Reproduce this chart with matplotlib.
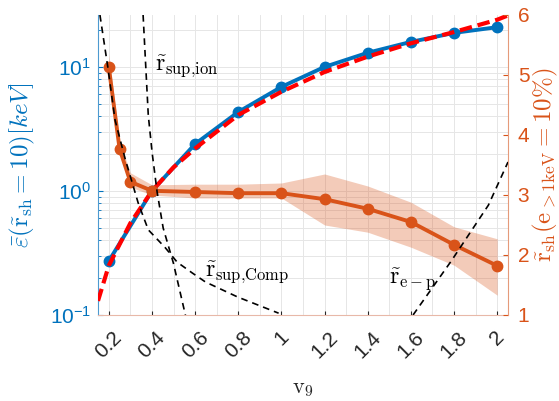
import numpy as np
import matplotlib.pyplot as plt
from matplotlib.ticker import MultipleLocator, LogLocator, NullFormatter

plt.rcParams['font.family'] = ['Liberation Sans', 'DejaVu Sans']
plt.rcParams['mathtext.fontset'] = 'cm'

# mean energy (left, log axis)
v_eps = [0.2, 0.4, 0.6, 0.8, 1.0, 1.2, 1.4, 1.6, 1.8, 2.0]
eps = [0.272, 1.0, 2.39, 4.33, 6.9, 10.0, 13.0, 15.9, 18.8, 20.9]

# fit to the energy (red dashed)
v_fit = [0.15, 0.2, 0.3, 0.4, 0.5, 0.6, 0.8, 1.0, 1.2, 1.4, 1.6, 1.8, 2.0, 2.05]
eps_fit = [0.13, 0.25, 0.55, 1.0, 1.55, 2.2, 4.1, 6.3, 9.1, 12.1, 15.5, 19.1, 24.0, 26.0]

# shock radius (right axis) with band
v_r = [0.2, 0.25, 0.3, 0.4, 0.6, 0.8, 1.0, 1.2, 1.4, 1.6, 1.8, 2.0]
r_sh = [5.13, 3.77, 3.22, 3.07, 3.05, 3.03, 3.03, 2.93, 2.77, 2.55, 2.17, 1.82]
r_hi = [5.35, 3.9, 3.37, 3.17, 3.18, 3.18, 3.2, 3.35, 3.15, 2.88, 2.47, 2.27]
r_lo = [5.0, 3.7, 3.13, 3.0, 2.95, 2.95, 2.95, 2.5, 2.38, 2.13, 1.83, 1.33]

# limiting radii (black dashed, right axis)
v_comp = [0.159, 0.196, 0.229, 0.276, 0.336, 0.383, 0.462, 0.517, 0.587, 0.648, 0.797, 0.987]
r_comp = [6.0, 5.12, 4.25, 3.6, 2.87, 2.42, 2.12, 1.88, 1.70, 1.55, 1.30, 1.03]
v_ion = [0.359, 0.383, 0.401, 0.424, 0.452, 0.499, 0.555]
r_ion = [6.0, 4.33, 3.7, 3.05, 2.45, 1.87, 1.0]
v_ep = [1.61, 1.787, 1.959, 2.05]
r_ep = [1.0, 1.9, 2.83, 3.55]

xtick_vals = [0.2, 0.4, 0.6, 0.8, 1.0, 1.2, 1.4, 1.6, 1.8, 2.0]
xtick_labels = ['0.2', '0.4', '0.6', '0.8', '1', '1.2', '1.4', '1.6', '1.8', '2']

blue = '#0072BD'
orange = '#D95319'

fig = plt.figure(figsize=(5.59, 4.01), dpi=100)
ax1 = fig.add_axes([0.1753, 0.2145, 0.7335, 0.7481])
ax2 = ax1.twinx()

# left axis
ax1.set_yscale('log')
ax1.set_xlim(0.15, 2.05)
ax1.set_ylim(0.1, 26.2)
ax1.plot(v_eps, eps, '-o', color=blue, lw=2.8, ms=7.5, zorder=3)
ax1.plot(v_fit, eps_fit, '--', color='#FF0000', lw=3, dashes=(3, 1.4), zorder=4)

ax1.set_xticks(xtick_vals)
ax1.set_xticklabels(xtick_labels, rotation=45, ha='center')
ax1.xaxis.set_minor_locator(MultipleLocator(0.1))
ax1.yaxis.set_major_locator(LogLocator(base=10, numticks=10))
ax1.yaxis.set_minor_locator(LogLocator(base=10, subs=np.arange(2, 10), numticks=20))
ax1.yaxis.set_minor_formatter(NullFormatter())
ax1.grid(True, which='both', color='#e6e6e6', lw=0.7)
ax1.set_axisbelow(True)

ax1.tick_params(axis='x', which='both', direction='in', labelsize=15, pad=9,
                colors='#262626', length=3)
ax1.tick_params(axis='x', which='minor', length=0)
ax1.tick_params(axis='y', which='both', direction='in', labelsize=15,
                colors=blue, pad=5)
ax1.tick_params(axis='y', which='minor', length=2.5)

ax1.set_ylabel(r'$\bar{\varepsilon}(\tilde{\mathrm{r}}_{\mathrm{sh}}=10)[keV]$',
               color=blue, fontsize=18)
ax1.yaxis.set_label_coords(-0.148, 0.5)
ax1.set_xlabel(r'$\mathrm{v}_9$', fontsize=16, color='#262626')
ax1.xaxis.set_label_coords(0.5, -0.21)

# right axis
ax2.set_ylim(1, 6)
ax2.fill_between(v_r, r_lo, r_hi, color=orange, alpha=0.3, lw=0, zorder=1)
ax2.plot(v_r, r_sh, '-o', color=orange, lw=2.8, ms=7.5, zorder=2)
ax2.plot(v_comp, r_comp, '--', color='k', lw=1.2, dashes=(4, 3), zorder=5)
ax2.plot(v_ion, r_ion, '--', color='k', lw=1.2, dashes=(4, 3), zorder=5)
ax2.plot(v_ep, r_ep, '--', color='k', lw=1.2, dashes=(4, 3), zorder=5)
ax2.set_yticks([1, 2, 3, 4, 5, 6])
ax2.tick_params(axis='y', direction='in', labelsize=15, colors=orange, pad=7)
ax2.set_ylabel(r'$\tilde{\mathrm{r}}_{\mathrm{sh}}(\mathrm{e}_{>1\mathrm{keV}}=10\%)$',
               color=orange, fontsize=18)
ax2.yaxis.set_label_coords(1.055, 0.5)

ax2.text(0.415, 5.13, r'$\tilde{\mathrm{r}}_{\mathrm{sup{,}ion}}$', fontsize=17,
         va='center', ha='left')
ax2.text(0.648, 1.7, r'$\tilde{\mathrm{r}}_{\mathrm{sup{,}Comp}}$', fontsize=17,
         va='center', ha='left')
ax2.text(1.5, 1.58, r'$\tilde{\mathrm{r}}_{\mathrm{e-p}}$', fontsize=17,
         va='center', ha='left')

# spines
for a in (ax1, ax2):
    a.spines['top'].set_visible(False)
ax1.spines['left'].set_color('#4d9ad0')
ax1.spines['right'].set_visible(False)
ax1.spines['bottom'].set_color('#e8b8a8')
ax2.spines['left'].set_visible(False)
ax2.spines['bottom'].set_visible(False)
ax2.spines['right'].set_color('#e59a7a')

fig.savefig('out.png', dpi=100)
